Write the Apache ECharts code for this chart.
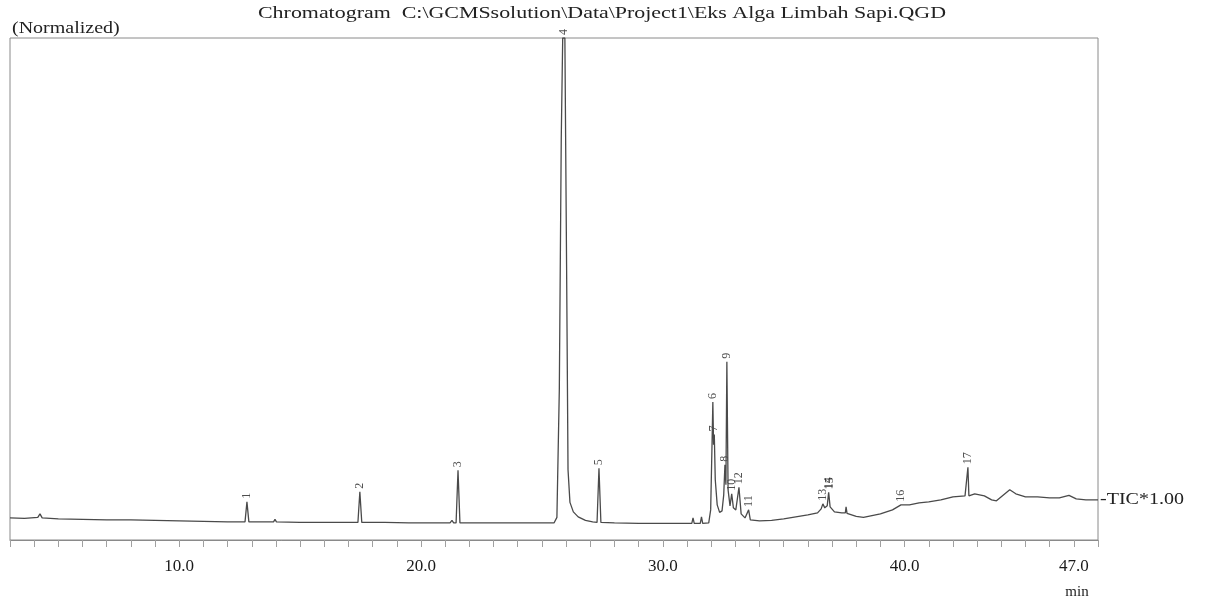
<!DOCTYPE html>
<html>
<head>
<meta charset="utf-8">
<script src="https://cdn.jsdelivr.net/npm/echarts@6/dist/echarts.min.js"></script>
<style>
  html, body { margin: 0; padding: 0; background: #fff; }
  #chart { width: 1209px; height: 602px; }
</style>
</head>
<body>
<div id="chart"></div>
<script>
// TIC trace, retention time (min) and normalized intensity
const traceTime = [
  3.0, 3.6, 4.15, 4.24, 4.33, 5.0, 6.0, 7.0, 8.0, 9.0, 10.0, 11.0, 12.0,
  12.72, 12.8, 12.88, 13.9, 13.96, 14.02, 15.0, 16.0, 17.39, 17.47, 17.55,
  18.5, 19.5, 20.5, 21.2, 21.28, 21.35, 21.45, 21.53, 21.61, 22.5, 23.5, 24.5,
  25.5, 25.62, 25.72, 25.8, 25.86, 25.95, 26.02, 26.08, 26.16, 26.3, 26.5, 26.8,
  27.1, 27.28, 27.36, 27.44, 28.0, 29.0, 30.0, 31.0, 31.2, 31.25, 31.3, 31.55,
  31.6, 31.65, 31.9, 31.98, 32.04, 32.07, 32.1, 32.13, 32.17, 32.25, 32.35,
  32.45, 32.52, 32.57, 32.61, 32.65, 32.7, 32.78, 32.85, 32.92, 33.02, 33.15,
  33.24, 33.4, 33.55, 33.62, 34.0, 34.5, 35.0, 35.5, 36.0, 36.4, 36.55, 36.62,
  36.7, 36.8, 36.86, 36.92, 37.1, 37.4, 37.55, 37.58, 37.62, 38.0, 38.3, 38.6,
  39.0, 39.5, 39.85, 40.2, 40.6, 41.0, 41.5, 42.0, 42.5, 42.58, 42.62, 42.66,
  42.9, 43.3, 43.6, 43.8, 44.1, 44.35, 44.6, 45.0, 45.5, 46.0, 46.4, 46.8,
  47.1, 47.5, 48.0
];
const traceIntensity = [
  4.4, 4.3, 4.5, 5.2, 4.4, 4.2, 4.1, 4.0, 4.0, 3.9, 3.8, 3.7, 3.6,
  3.6, 7.6, 3.6, 3.6, 4.1, 3.6, 3.5, 3.5, 3.5, 9.6, 3.5,
  3.5, 3.4, 3.4, 3.4, 3.9, 3.4, 3.4, 13.9, 3.4, 3.4, 3.4, 3.4,
  3.4, 4.5, 30, 80, 100, 100, 55, 14, 7.5, 5.6, 4.6, 3.9,
  3.6, 3.5, 14.3, 3.5, 3.4, 3.3, 3.3, 3.3, 3.3, 4.4, 3.3, 3.3,
  4.6, 3.3, 3.4, 6, 20, 27.5, 19, 21, 12, 7, 5.5,
  5.8, 9, 15, 11, 35.5, 10, 6.8, 9.2, 6.4, 6.0, 10.5,
  5.2, 4.4, 6.0, 4.0, 3.8, 3.9, 4.2, 4.6, 5.0, 5.4, 6.2, 7.2,
  6.4, 6.8, 9.5, 6.6, 5.6, 5.4, 5.4, 6.6, 5.3, 4.7, 4.5, 4.8,
  5.2, 6.0, 7.0, 7.0, 7.4, 7.6, 8.0, 8.6, 8.8, 8.8, 14.5, 8.8,
  9.2, 8.8, 8.0, 7.8, 9.0, 10.0, 9.2, 8.6, 8.6, 8.4, 8.4, 8.9,
  8.2, 8.0, 8.0
];

// peak numbers and where their labels sit
const peakNumbers = ['1', '2', '3', '4', '5', '6', '7', '8', '9', '10', '11', '12', '13', '14', '15', '16', '17'];
const peakTimes = [12.8, 17.47, 21.53, 25.9, 27.36, 32.07, 32.13, 32.57, 32.65, 32.85, 33.55, 33.15, 36.62, 36.86, 36.9, 39.85, 42.62];
const peakTops = [7.6, 9.6, 13.9, 100, 14.3, 27.5, 21, 15, 35.5, 9.2, 6.0, 10.5, 7.2, 9.5, 9.5, 7.0, 14.5];

// x axis labels
const labelTicks = [10, 20, 30, 40, 47];

const serif = '"Liberation Serif", "DejaVu Serif", serif';

const chart = echarts.init(document.getElementById('chart'));

chart.setOption({
  animation: false,
  grid: {
    left: 10, right: 111, top: 38, bottom: 62,
    show: true, borderColor: '#8a8a8a', borderWidth: 1
  },
  xAxis: {
    type: 'value',
    min: 3, max: 48, interval: 1,
    axisLine: { show: true, lineStyle: { color: '#8a8a8a' } },
    axisTick: { show: true, length: 7, lineStyle: { color: '#a0a0a0' } },
    splitLine: { show: false },
    axisLabel: {
      interval: 0,
      margin: 18,
      fontFamily: serif,
      fontSize: 17,
      color: '#1a1a1a',
      formatter: v => labelTicks.includes(Math.round(v)) ? Math.round(v).toFixed(1) : ''
    }
  },
  yAxis: { type: 'value', min: 0, max: 100, show: false },
  series: [
    {
      type: 'line',
      data: traceTime.map((t, i) => [t, traceIntensity[i]]),
      showSymbol: false,
      lineStyle: { color: '#4a4a4a', width: 1.3 }
    },
    {
      type: 'scatter',
      data: peakTimes.map((t, i) => [t, peakTops[i]]),
      symbolSize: 0,
      clip: false,
      label: {
        show: true,
        position: 'top',
        distance: 3,
        rotate: 90,
        align: 'left',
        verticalAlign: 'middle',
        fontFamily: serif,
        fontSize: 12,
        color: '#222',
        formatter: p => peakNumbers[p.dataIndex]
      }
    }
  ],
  graphic: [
    {
      type: 'text', x: 258, y: 14, scaleX: 1.37,
      style: {
        text: 'Chromatogram  C:\\GCMSsolution\\Data\\Project1\\Eks Alga Limbah Sapi.QGD',
        font: '16px ' + serif, fill: '#222', textVerticalAlign: 'middle'
      }
    },
    {
      type: 'text', x: 12, y: 29, scaleX: 1.25,
      style: { text: '(Normalized)', font: '16px ' + serif, fill: '#222', textVerticalAlign: 'middle' }
    },
    {
      type: 'text', x: 1100, y: 500, scaleX: 1.25,
      style: { text: '-TIC*1.00', font: '16px ' + serif, fill: '#222', textVerticalAlign: 'middle' }
    },
    {
      type: 'text', x: 1077, y: 592,
      style: { text: 'min', font: '15px ' + serif, fill: '#222', textAlign: 'center', textVerticalAlign: 'middle' }
    }
  ]
});
</script>
</body>
</html>
